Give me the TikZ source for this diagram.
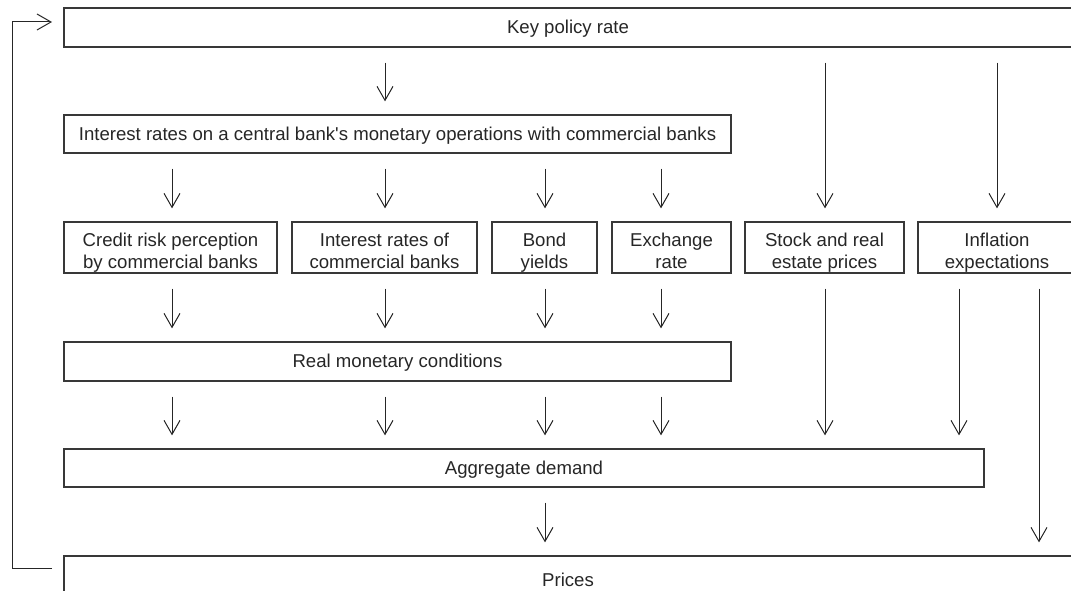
\documentclass[tikz,border=0pt]{standalone}
\usepackage{fontspec}
\setmainfont{Liberation Sans}
\usetikzlibrary{arrows.meta}

% box text, lowered a little without changing the box size
\newcommand\onel[1]{\raisebox{-1.5pt}[\height][\depth]{#1}}
\newcommand\twol[2]{\raisebox{-6pt}[\height][\depth]{%
  \begin{tabular}{@{}c@{}}#1\\#2\end{tabular}}}

\begin{document}
\begin{tikzpicture}[x=1pt, y=-1pt,
  box/.style={draw=black!78, line width=1.25pt, inner sep=0pt, align=center,
              text=black!85, font=\fontsize{18.6}{22}\selectfont},
  arr/.style={draw=black!85, line width=1pt,
              -{Straight Barb[length=14pt, width=16pt, line width=1pt]}},
  gap/.style={shorten <=15pt, shorten >=13pt}
]
\clip (0,0) rectangle (1071,591);

% --- boxes (centre and size) ---
\node[box, minimum width=1008pt, minimum height=39pt] (key)    at (568,27.5)   {\onel{Key policy rate}};
\node[box, minimum width=667pt,  minimum height=38pt] (ops)    at (397.5,134)  {\onel{Interest rates on a central bank\textquotesingle s monetary operations with commercial banks}};
\node[box, minimum width=213pt, minimum height=51pt] (credit) at (170.5,247.5) {\twol{Credit risk perception}{by commercial banks}};
\node[box, minimum width=185pt, minimum height=51pt] (irc)    at (384.5,247.5) {\twol{Interest rates of}{commercial banks}};
\node[box, minimum width=105pt, minimum height=51pt] (bond)   at (544.5,247.5) {\twol{Bond}{yields}};
\node[box, minimum width=119pt, minimum height=51pt] (fx)     at (671.5,247.5) {\twol{Exchange}{rate}};
\node[box, minimum width=159pt, minimum height=51pt] (stock)  at (824.5,247.5) {\twol{Stock and real}{estate prices}};
\node[box, minimum width=158pt, minimum height=51pt] (infl)   at (997,247.5)   {\twol{Inflation}{expectations}};
\node[box, minimum width=667pt,  minimum height=39pt] (real)   at (397.5,361.5) {\onel{Real monetary conditions}};
\node[box, minimum width=920pt,  minimum height=38pt] (agg)    at (524,468)     {\onel{Aggregate demand}};
\node[box, minimum width=1008pt, minimum height=44pt] (prices) at (568,578)     {\onel{Prices}};

% --- arrow columns ---
\coordinate (c1) at (172,0);
\coordinate (c2) at (385,0);
\coordinate (c3) at (545,0);
\coordinate (c4) at (661,0);
\coordinate (c5) at (825,0);
\coordinate (c6) at (997,0);
\coordinate (c7) at (959,0);
\coordinate (c8) at (1039,0);

% key policy rate
\draw[arr, gap] (key.south -| c2) -- (ops.north -| c2);
\draw[arr, gap] (key.south -| c5) -- (stock.north -| c5);
\draw[arr, gap] (key.south -| c6) -- (infl.north -| c6);

% operations rates to the channel boxes
\draw[arr, gap] (ops.south -| c1) -- (credit.north -| c1);
\draw[arr, gap] (ops.south -| c2) -- (irc.north -| c2);
\draw[arr, gap] (ops.south -| c3) -- (bond.north -| c3);
\draw[arr, gap] (ops.south -| c4) -- (fx.north -| c4);

% channel boxes to real monetary conditions
\draw[arr, gap] (credit.south -| c1) -- (real.north -| c1);
\draw[arr, gap] (irc.south -| c2) -- (real.north -| c2);
\draw[arr, gap] (bond.south -| c3) -- (real.north -| c3);
\draw[arr, gap] (fx.south -| c4) -- (real.north -| c4);

% into aggregate demand
\draw[arr, gap] (real.south -| c1) -- (agg.north -| c1);
\draw[arr, gap] (real.south -| c2) -- (agg.north -| c2);
\draw[arr, gap] (real.south -| c3) -- (agg.north -| c3);
\draw[arr, gap] (real.south -| c4) -- (agg.north -| c4);
\draw[arr, gap] (stock.south -| c5) -- (agg.north -| c5);
\draw[arr, gap] (infl.south -| c7) -- (agg.north -| c7);

% into prices
\draw[arr, gap] (agg.south -| c3) -- (prices.north -| c3);
\draw[arr, gap] (infl.south -| c8) -- (prices.north -| c8);

% feedback loop from prices back to the key policy rate
\coordinate (fbout) at (52,568);
\coordinate (fbin)  at (52,22);
\draw[arr] (fbout) -- ++(-40,0) |- (fbin);
\end{tikzpicture}
\end{document}
